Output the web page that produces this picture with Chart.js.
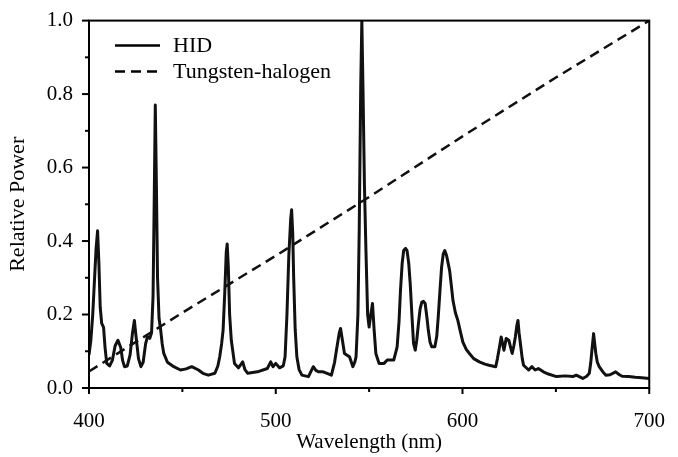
<!DOCTYPE html>
<html>
<head>
<meta charset="utf-8">
<script src="https://cdn.jsdelivr.net/npm/chart.js@4.4.1/dist/chart.umd.min.js"></script>
<style>
  html, body { margin: 0; padding: 0; background: #fff; }
  #wrap { width: 678px; height: 457px; position: relative; }
</style>
</head>
<body>
<div id="wrap"><canvas id="spectrum"></canvas></div>
<script>
// HID lamp spectrum
const hidNm = [
  400, 401, 402, 403, 403.8, 404.6, 405.3, 406, 406.8, 407.8, 408.6, 409.5,
  411, 412.5, 414, 415.5, 417, 418, 419, 420.5, 422, 423.3, 424.3, 425.2,
  426.5, 427.8, 429, 430.3, 431.3, 432.5, 433.5, 434.3, 434.9, 435.5, 436.1,
  436.7, 437.5, 438.4, 439.2, 440, 442, 445.4, 449, 452, 455, 458.6, 461,
  463.9, 467.4, 469, 470, 471, 471.8, 472.7, 473.5, 474, 474.6, 475.3, 476.2,
  477.9, 480, 482.3, 483.5, 485, 490.2, 495.5, 497.3, 498.5, 500, 502, 504,
  505, 506, 507, 508, 508.5, 509.1, 509.6, 510.4, 511.3, 512.5, 514, 517.5,
  520.1, 521.5, 522.8, 525.4, 527.5, 529.8, 531.5, 532.5, 534, 534.7, 535.7,
  536.8, 538, 539.5, 541.3, 542.3, 543, 544, 544.7, 545.5, 546.1, 546.7,
  547.5, 548.3, 549.2, 550, 550.9, 551.8, 552.7, 553.6, 555.3, 558, 559.7,
  563.2, 565, 566, 566.8, 567.7, 568.5, 569.5, 570.3, 571.2, 572, 573, 573.8,
  574.7, 575.5, 576.4, 577.3, 578.2, 579.1, 580, 581, 581.7, 582.6, 583.5,
  585.2, 586.2, 587, 588, 588.8, 589.7, 590.5, 591.5, 592.3, 593.1, 594,
  594.9, 596.2, 597.5, 598.8, 600.2, 602, 603.7, 606, 609, 612, 614.2, 617.8,
  618.7, 619.5, 620.7, 621.5, 622.2, 623.4, 624.8, 625.8, 626.6, 627.5, 628.3,
  629.1, 629.7, 630.3, 631, 632, 632.7, 635.4, 637.1, 638.9, 640.6, 643.3,
  646, 650.3, 655, 659.1, 660.9, 664.4, 666.5, 667.9, 668.7, 669.3, 670.2,
  670.8, 671.4, 672.2, 673.2, 675, 676.7, 679, 682, 684, 685.5, 689, 692.5,
  696, 700
];
const hidPower = [
  0.09, 0.13, 0.2, 0.3, 0.38, 0.428, 0.34, 0.22, 0.176, 0.165, 0.11, 0.067,
  0.06, 0.075, 0.115, 0.13, 0.11, 0.075, 0.058, 0.06, 0.09, 0.15, 0.184, 0.14,
  0.08, 0.058, 0.07, 0.12, 0.14, 0.135, 0.15, 0.25, 0.5, 0.77, 0.55,
  0.3, 0.19, 0.157, 0.12, 0.095, 0.07, 0.058, 0.049, 0.052, 0.058, 0.049, 0.04,
  0.035, 0.04, 0.06, 0.085, 0.12, 0.157, 0.26, 0.37, 0.392, 0.33, 0.2, 0.13,
  0.067, 0.055, 0.071, 0.05, 0.04, 0.044, 0.053, 0.071, 0.058, 0.067, 0.055, 0.06,
  0.085, 0.2, 0.36, 0.46, 0.485, 0.42, 0.3, 0.16, 0.085, 0.05, 0.035, 0.031,
  0.058, 0.048, 0.044, 0.044, 0.04, 0.035, 0.07, 0.103, 0.15, 0.162, 0.13,
  0.094, 0.09, 0.085, 0.058, 0.07, 0.085, 0.2, 0.43, 0.82, 1.0, 0.82,
  0.55, 0.374, 0.2, 0.166, 0.2, 0.23, 0.157, 0.094, 0.067, 0.067, 0.076,
  0.076, 0.112, 0.18, 0.266, 0.34, 0.374, 0.38, 0.374, 0.34, 0.284, 0.19, 0.121,
  0.103, 0.13, 0.175, 0.215, 0.234, 0.236, 0.23, 0.19, 0.157, 0.125, 0.112,
  0.112, 0.14, 0.193, 0.27, 0.329, 0.365, 0.374, 0.36, 0.34, 0.32, 0.28,
  0.238, 0.205, 0.184, 0.155, 0.125, 0.105, 0.094, 0.08, 0.071, 0.065, 0.062, 0.058,
  0.08, 0.103, 0.139, 0.12, 0.103, 0.135, 0.13, 0.11, 0.094, 0.115, 0.139,
  0.17, 0.184, 0.15, 0.121, 0.08, 0.062, 0.049, 0.058, 0.049, 0.053, 0.044,
  0.038, 0.031, 0.033, 0.031, 0.035, 0.026, 0.032, 0.04, 0.07, 0.103, 0.148,
  0.12, 0.094, 0.07, 0.058, 0.045, 0.035, 0.036, 0.044, 0.036, 0.032, 0.031, 0.029,
  0.028, 0.026
];

// tungsten-halogen curve (straight on this plot)
const thNm = [400, 450, 500, 550, 600, 650, 700];
const thPower = [0.045, 0.205, 0.36, 0.52, 0.685, 0.845, 1.0];

// axis ticks (majors get labels, the rest are minor marks)
const xTicks = [400, 450, 500, 550, 600, 650, 700];
const xMajor = [400, 500, 600, 700];
const yTicks = [0, 0.1, 0.2, 0.3, 0.4, 0.5, 0.6, 0.7, 0.8, 0.9, 1.0];
const yMajor = [0, 0.2, 0.4, 0.6, 0.8, 1.0];

const SERIF = "'Liberation Serif', 'Times New Roman', serif";

function pairs(xs, ys) {
  return xs.map((x, i) => ({ x: x, y: ys[i] }));
}

/* frame, tick marks and the inset legend */
const framePlugin = {
  id: "frame",
  afterDraw(chart) {
    const { ctx, chartArea: a, scales } = chart;
    ctx.save();
    ctx.strokeStyle = "#000";
    ctx.lineWidth = 2;
    ctx.setLineDash([]);
    ctx.strokeRect(a.left, a.top, a.right - a.left, a.bottom - a.top);

    for (const v of yTicks) {
      const py = scales.y.getPixelForValue(v);
      const len = yMajor.some(m => Math.abs(m - v) < 1e-6) ? 7 : 4;
      ctx.beginPath();
      ctx.moveTo(a.left - len, py);
      ctx.lineTo(a.left, py);
      ctx.stroke();
    }
    for (const v of xTicks) {
      const px = scales.x.getPixelForValue(v);
      const len = xMajor.includes(v) ? 6 : 4;
      ctx.beginPath();
      ctx.moveTo(px, a.bottom);
      ctx.lineTo(px, a.bottom + len);
      ctx.stroke();
    }

    // legend
    ctx.font = "22px " + SERIF;
    ctx.fillStyle = "#000";
    ctx.textBaseline = "middle";
    chart.data.datasets.forEach((ds, i) => {
      const y = a.top + 25 + i * 26;
      ctx.lineWidth = 2.5;
      ctx.setLineDash(ds.borderDash || []);
      ctx.beginPath();
      ctx.moveTo(a.left + 26, y);
      ctx.lineTo(a.left + 71, y);
      ctx.stroke();
      ctx.fillText(ds.label, a.left + 84, y + 1);
    });
    ctx.restore();
  },
};

new Chart(document.getElementById("spectrum"), {
  type: "line",
  data: {
    datasets: [
      {
        label: "HID",
        data: pairs(hidNm, hidPower),
        borderColor: "#111",
        borderWidth: 3,
        pointRadius: 0,
        fill: false,
        tension: 0,
        borderJoinStyle: "round",
      },
      {
        label: "Tungsten-halogen",
        data: pairs(thNm, thPower),
        borderColor: "#111",
        borderWidth: 2.5,
        borderDash: [10, 6],
        pointRadius: 0,
        fill: false,
        tension: 0,
      },
    ],
  },
  options: {
    responsive: true,
    maintainAspectRatio: false,
    animation: false,
    layout: { padding: { top: 19, right: 20, left: 0, bottom: 0 } },
    plugins: {
      legend: { display: false },
      tooltip: { enabled: false },
    },
    scales: {
      x: {
        type: "linear",
        min: 400,
        max: 700,
        afterFit: s => { s.height = 69; },
        grid: { display: false },
        border: { display: false },
        ticks: {
          stepSize: 100,
          padding: 13,
          color: "#000",
          font: { family: SERIF, size: 21 },
          maxRotation: 0,
        },
        title: {
          display: true,
          text: "Wavelength (nm)",
          color: "#000",
          font: { family: SERIF, size: 21 },
          padding: { bottom: 2 },
        },
      },
      y: {
        min: 0,
        max: 1,
        afterFit: s => { s.width = 89; },
        grid: { display: false },
        border: { display: false },
        ticks: {
          stepSize: 0.2,
          padding: 8,
          color: "#000",
          font: { family: SERIF, size: 21 },
          callback: v => v.toFixed(1),
        },
        title: {
          display: true,
          text: "Relative Power",
          color: "#000",
          font: { family: SERIF, size: 22 },
          padding: { top: 5 },
        },
      },
    },
  },
  plugins: [framePlugin],
});
</script>
</body>
</html>
